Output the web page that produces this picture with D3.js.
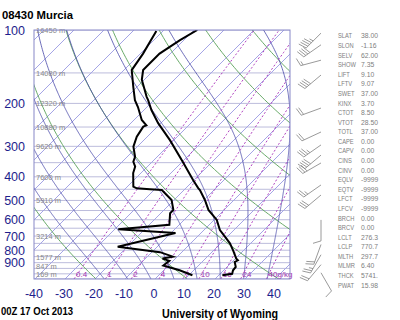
<!DOCTYPE html>
<html><head><meta charset="utf-8">
<script src="https://cdn.jsdelivr.net/npm/d3@7"></script>
<style>body{margin:0;background:#fff}svg{display:block}text{font-family:"Liberation Sans",Arial,sans-serif}</style>
</head><body><svg></svg>
<script>
// Sounding data
const tempP = [1013, 1000, 967, 937, 894, 880, 866, 800, 750, 704, 661, 601, 547, 498, 453, 445, 413, 351, 341, 283, 241, 213, 194, 188, 160, 146, 125, 110, 100];
const tempT = [21.2, 24.0, 23.1, 22.9, 20.9, 21.4, 20.3, 16.4, 13.1, 9.2, 5.3, 0.9, -5.2, -9.7, -14.7, -15.9, -20.2, -29.2, -30.8, -41.3, -50.9, -57.5, -61.9, -63.5, -70.8, -73.6, -73.6, -71.3, -68.9];
const dwptP = [1013, 967, 925, 884, 866, 850, 815, 774, 680, 657, 629, 564, 547, 498, 475, 453, 450, 446, 439, 386, 363, 347, 331, 301, 274, 249, 246, 234, 207, 194, 171, 146, 125, 101];
const dwptT = [11.2, 5.3, -1.7, -1.3, -4.3, -1.5, -7.3, -23.2, -8.5, -28.8, -13.3, -16.9, -16.9, -20.8, -24.1, -27.4, -31.6, -36.3, -38, -42.6, -44.1, -46.3, -47.4, -51.3, -53.5, -54.7, -54.1, -57.4, -63, -66.3, -71.3, -77.4, -79.1, -82.2];
const windP = [103, 115, 133, 153, 209, 262, 296, 326, 351, 432, 475, 601, 758, 835, 917, 990];
const windDir = [225, 235, 255, 230, 250, 245, 235, 230, 240, 235, 230, 180, 200, 210, 220, 150];
const windKt = [45, 40, 15, 40, 20, 20, 35, 40, 30, 25, 30, 10, 20, 25, 20, 10];

const pressLabels = [100, 200, 300, 400, 500, 600, 700, 800, 900];
const tempTicks = [-40, -30, -20, -10, 0, 10, 20, 30, 40];
const heightP = [100, 150, 200, 250, 300, 400, 500, 700, 850, 925, 1000];
const heightM = ["16450", "14080", "12320", "10880", "9620", "7600", "5910", "3214", "1577", "847", "169"];
const mixRatios = [0.4, 1, 2, 4, 7, 10, 16, 24, 40];
const mixLabels = ["0.4", "1", "2", "4", "7", "10", "16", "24", "40g/kg"];

const statNames = ["SLAT","SLON","SELV","SHOW","LIFT","LFTV","SWET","KINX","CTOT","VTOT","TOTL","CAPE","CAPV","CINS","CINV","EQLV","EQTV","LFCT","LFCV","BRCH","BRCV","LCLT","LCLP","MLTH","MLMR","THCK","PWAT"];
const statValues = ["38.00","-1.16","62.00","7.35","9.10","9.07","37.00","3.70","8.50","28.50","37.00","0.00","0.00","0.00","0.00","-9999","-9999","-9999","-9999","0.00","0.00","276.3","770.7","297.7","6.40","5741.","15.98"];

//Dimensions
const width = 400, height = 320;
const plotL = 34, plotR = 290, plotT = 30, plotB = 279;

const svg = d3.select("svg").attr("width", width).attr("height", height);

const y = d3.scaleLog().domain([1050, 100]).range([plotB, plotT]);
const xT = d3.scaleLinear().domain([-40, 45]).range([35, 290]);
const sx = (T, p) => xT(T) + (plotB - y(p));
const line = d3.line().x(d => sx(d[1], d[0])).y(d => y(d[0]));
const logPs = d3.range(0, 101).map(i => 1050 * Math.pow(100 / 1050, i / 100));

svg.append("clipPath").attr("id", "plot").append("rect")
  .attr("x", plotL).attr("y", plotT).attr("width", plotR - plotL).attr("height", plotB - plotT);
const bg = svg.append("g").attr("clip-path", "url(#plot)");

// isobars
bg.selectAll(".isobar").data(d3.range(100, 1051, 50)).enter().append("line")
  .attr("x1", plotL).attr("x2", plotR).attr("y1", d => y(d)).attr("y2", d => y(d))
  .attr("stroke", "#bcbcdc").attr("stroke-width", 1);

// isotherms
bg.selectAll(".isotherm").data(d3.range(-130, 50, 10)).enter().append("path")
  .attr("d", t => line([[1050, t], [100, t]]))
  .attr("fill", "none").attr("stroke", "#a4a4e6").attr("stroke-width", 1);

// dry adiabats
bg.selectAll(".dry").data(d3.range(250, 470, 30)).enter().append("path")
  .attr("d", th => line(logPs.map(p => [p, th * Math.pow(p / 1000, 0.286) - 273.15])))
  .attr("fill", "none").attr("stroke", "#58a058").attr("stroke-width", 0.9);

// moist adiabats
function moist(T0) {
  const Rd = 287.04, Cp = 1005.7, Lv = 2.501e6, eps = 0.622;
  const rate = (p, T) => {
    const Tc = T - 273.15;
    const es = 6.112 * Math.exp(17.67 * Tc / (Tc + 243.5));
    const rs = eps * es / (p - es);
    return (Rd * T + Lv * rs) / (Cp + Lv * Lv * rs * eps / (Rd * T * T)) / p;
  };
  const up = [], down = [];
  let T = T0 + 273.15, p = 1000;
  up.push([p, T]);
  while (p > 100) { T -= rate(p, T) * 2; p -= 2; up.push([p, T]); }
  T = T0 + 273.15; p = 1000;
  while (p < 1050) { T += rate(p, T) * 2; p += 2; down.unshift([p, T]); }
  return down.concat(up).map(d => [d[0], d[1] - 273.15]);
}
bg.selectAll(".moist").data(d3.range(-20, 40, 8)).enter().append("path")
  .attr("d", t => line(moist(t)))
  .attr("fill", "none").attr("stroke", "#4848a8").attr("stroke-width", 0.8);

// mixing ratio lines
function dewFromW(w, p) {
  const e = w * p / (622 + w);
  const l = Math.log(e / 6.112);
  return 243.5 * l / (17.67 - l);
}
bg.selectAll(".mix").data(mixRatios).enter().append("path")
  .attr("d", w => line(logPs.map(p => [p, dewFromW(w, p)])))
  .attr("fill", "none").attr("stroke", "#b040c0").attr("stroke-width", 1)
  .attr("stroke-dasharray", "2,2");

// mixing ratio labels
svg.selectAll(".mixlab").data(mixRatios).enter().append("text")
  .attr("x", w => sx(dewFromW(w, 1050), 1050) + 2).attr("y", plotB - 2)
  .attr("font-size", 8).attr("fill", "#a030b0")
  .text((w, i) => mixLabels[i]);

// height labels
svg.selectAll(".hgt").data(heightP).enter().append("text")
  .attr("x", plotL + 2).attr("y", d => y(d) + 3)
  .attr("font-size", 7.5).attr("fill", "#8a8a8a")
  .text((d, i) => heightM[i] + " m");

// sounding lines
svg.append("path").datum(tempP.map((p, i) => [p, tempT[i]]))
  .attr("d", line).attr("fill", "none").attr("stroke", "#000").attr("stroke-width", 2)
  .attr("clip-path", "url(#plot)");
svg.append("path").datum(dwptP.map((p, i) => [p, dwptT[i]]))
  .attr("d", line).attr("fill", "none").attr("stroke", "#000").attr("stroke-width", 2)
  .attr("clip-path", "url(#plot)");

// frame
svg.append("rect").attr("x", plotL).attr("y", plotT).attr("width", plotR - plotL).attr("height", plotB - plotT)
  .attr("fill", "none").attr("stroke", "#8888c8").attr("stroke-width", 1);

// axis labels
svg.selectAll(".plab").data(pressLabels).enter().append("text")
  .attr("x", 25).attr("y", d => y(d) + 4.5).attr("text-anchor", "end")
  .attr("font-size", 12.5).attr("fill", "#1e1e8c").text(d => d);
svg.selectAll(".tlab").data(tempTicks).enter().append("text")
  .attr("x", d => xT(d) - 1).attr("y", 298).attr("text-anchor", "middle")
  .attr("font-size", 12.5).attr("fill", "#1e1e8c").text(d => d);

// titles
svg.append("text").attr("x", 2).attr("y", 19).attr("font-size", 11.5).attr("font-weight", "bold")
  .attr("textLength", 71).attr("lengthAdjust", "spacingAndGlyphs").text("08430  Murcia");
svg.append("text").attr("x", 1).attr("y", 315).attr("font-size", 11).attr("font-weight", "bold")
  .attr("textLength", 72).attr("lengthAdjust", "spacingAndGlyphs").text("00Z 17 Oct 2013");
svg.append("text").attr("x", 162).attr("y", 318).attr("font-size", 12).attr("font-weight", "bold")
  .attr("textLength", 116).attr("lengthAdjust", "spacingAndGlyphs").text("University of Wyoming");

// stats (narrow text)
const names = svg.append("g").attr("fill", "#808080").attr("font-size", 8)
  .attr("transform", "translate(338,0) scale(0.72,1)");
names.selectAll("text").data(statNames).enter().append("text")
  .attr("x", 0).attr("y", (d, i) => 38.5 + i * 9.58).text(d => d);
const vals = svg.append("g").attr("fill", "#808080").attr("font-size", 8)
  .attr("transform", "translate(361,0) scale(0.85,1)");
vals.selectAll("text").data(statValues).enter().append("text")
  .attr("x", 0).attr("y", (d, i) => 38.5 + i * 9.58).text(d => d);

// wind barbs
const barbX = 321, staff = 21;
const barbs = svg.append("g").attr("stroke", "#808080").attr("stroke-width", 0.8).attr("fill", "none");
windP.forEach((p, i) => {
  const a = windDir[i] * Math.PI / 180;
  const sxv = Math.sin(a), syv = -Math.cos(a);
  const fx = -syv, fy = sxv;
  const bx = barbX, by = y(p);
  const tx = bx + sxv * staff, ty = by + syv * staff;
  barbs.append("line").attr("x1", bx).attr("y1", by).attr("x2", tx).attr("y2", ty);
  let kt = Math.round(windKt[i] / 5) * 5, pos = 0;
  const feather = (len) => {
    const px = tx - sxv * pos, py = ty - syv * pos;
    barbs.append("line").attr("x1", px).attr("y1", py)
      .attr("x2", px + fx * len + sxv * len * 0.3).attr("y2", py + fy * len + syv * len * 0.3);
    pos += 2.5;
  };
  while (kt >= 10) { feather(8); kt -= 10; }
  if (kt >= 5) { if (pos === 0) pos = 2.5; feather(4); }
});
</script></body></html>
